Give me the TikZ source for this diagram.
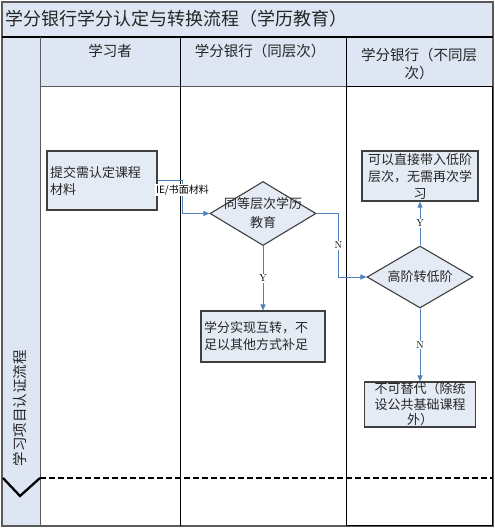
\documentclass[tikz,border=0pt]{standalone}
\usepackage{fontspec}
\usetikzlibrary{shapes.geometric,arrows.meta}
\newfontfamily\cjk{Noto Sans CJK SC}
\definecolor{laneblue}{HTML}{DDE6F2}
\definecolor{boxblue}{HTML}{E5EBF5}
\definecolor{boxline}{HTML}{3F3F3F}
\definecolor{frameline}{HTML}{5A5A5A}
\definecolor{flowblue}{HTML}{4F81BD}
\definecolor{txtgray}{HTML}{262626}

\begin{document}
\begin{tikzpicture}[x=1pt,y=-1pt,
  stepbox/.style={draw=boxline,line width=1.1pt,fill=boxblue,inner xsep=3pt,inner ysep=2pt,
    font=\cjk\fontsize{13pt}{17pt}\selectfont,text=txtgray},
  decide/.style={diamond,draw=boxline,line width=1.1pt,fill=boxblue,inner sep=0pt},
  dlabel/.style={font=\cjk\fontsize{13pt}{19pt}\selectfont,align=center,text=txtgray},
  flow/.style={draw=flowblue,line width=0.9pt,-{Triangle[length=6pt,width=5pt]}},
  yn/.style={fill=white,inner sep=1pt,font=\fontsize{10pt}{12pt}\selectfont},
  lanehead/.style={font=\cjk\fontsize{14.5pt}{18pt}\selectfont,text=txtgray,align=center}]
\useasboundingbox (0,0) rectangle (495,528);

\fill[laneblue] (2,2) rectangle (493,37);
\fill[laneblue] (40,37) rectangle (493,86);
\fill[laneblue] (2,37) rectangle (40,526);
\draw[frameline,line width=1.2pt] (2,2) rectangle (493,526);
\draw[line width=1.5pt] (2,37) -- (493,37);
\draw[frameline,line width=1pt] (40,37) -- (40,526);
\draw[frameline,line width=0.8pt] (40,86) -- (493,86);
\draw[line width=0.8pt] (180,37) -- (180,526);
\draw[line width=1pt] (346,37) -- (346,86);
\draw[line width=1pt] (346,86) rectangle (492,525);
\draw[line width=2.3pt,dash pattern=on 6pt off 3pt] (40,478) -- (493,478);
\draw[line width=2.3pt] (3,478) -- (20,496) -- (40,478);

\node[font=\cjk\fontsize{18pt}{20pt}\selectfont,anchor=west,text=txtgray,inner sep=0pt] (title) at (5,19) {学分银行学分认定与转换流程（学历教育）};
\node[lanehead] (learner) at (110,51) {学习者};
\node[lanehead] (bsame) at (260,51) {学分银行（同层次）};
\node[lanehead] (bdiff) at (419,63.5) {学分银行（不同层\\次）};
\node[lanehead,rotate=90] (process) at (20,408) {学习项目认证流程};

\node[stepbox,text width=104pt,align=left,minimum height=59pt] (submit) at (102,180.5) {提交需认定课程\\材料};
\node[decide,minimum width=106pt,minimum height=64pt,label={[dlabel]center:{同等层次学历\\教育}}] (same) at (263,213.5) {};
\node[stepbox,text width=118pt,align=left,minimum height=51pt] (mutual) at (263,336.5) {学分实现互转，不\\足以其他方式补足};
\node[decide,minimum width=106pt,minimum height=62pt,label={[dlabel]center:高阶转低阶}] (lower) at (420,277) {};
\node[stepbox,text width=110pt,align=center,minimum height=50pt,inner ysep=1pt] (direct) at (420,176) {可以直接带入低阶\\层次，无需再次学\\习};
\node[stepbox,text width=105pt,align=center,minimum height=45pt,inner ysep=0pt,
  font=\cjk\fontsize{13pt}{15.5pt}\selectfont] (noreplace) at (420,404.5) {不可替代（除统\\设公共基础课程\\外）};

\draw[flow] (submit.east) -| ([xshift=-27pt]same.west) node[yn,font=\cjk\fontsize{10pt}{12pt}\selectfont,pos=0.65] {IE/书面材料} -- (same.west);
\draw[flow] (same.south) -- node[yn] {Y} (mutual.north);
\draw[flow] (same.east) -| ([xshift=-28pt]lower.west) node[yn,pos=0.75] {N} -- (lower.west);
\draw[flow] (lower.north) -- node[yn] {Y} (direct.south);
\draw[flow] (lower.south) -- node[yn] {N} (noreplace.north);
\end{tikzpicture}
\end{document}
